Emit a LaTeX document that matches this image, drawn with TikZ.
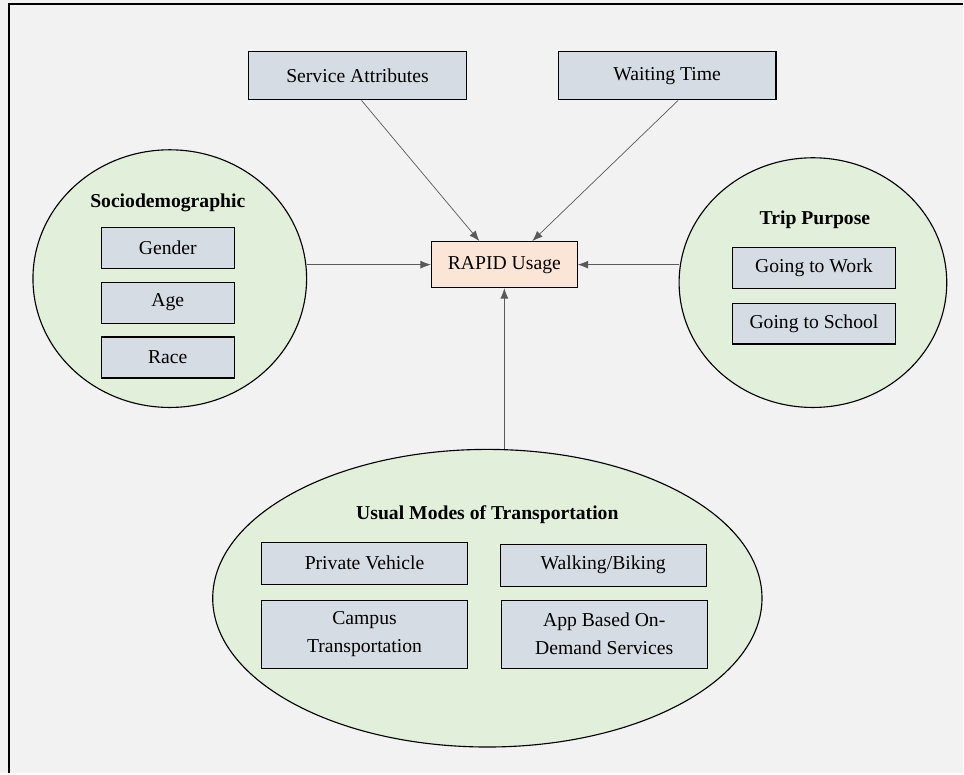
\documentclass[tikz,border=0pt]{standalone}
\usepackage{fontspec}
\setmainfont{Liberation Serif}
\usetikzlibrary{shapes.geometric,arrows.meta}
\definecolor{bgray}{HTML}{F2F2F2}
\definecolor{grpgreen}{HTML}{E2EFDA}
\definecolor{itemblue}{HTML}{D6DCE4}
\definecolor{targetpeach}{HTML}{FBE5D6}
\begin{document}
\begin{tikzpicture}[
        item/.style={rectangle, draw=black, line width=0.8pt, fill=itemblue, align=center},
        group/.style={ellipse, draw=black, line width=0.8pt, fill=grpgreen, inner sep=0pt},
        target/.style={rectangle, draw=black, line width=0.8pt, fill=targetpeach, minimum width=3.65cm, minimum height=1.15cm},
        title/.style={font=\fontsize{14}{20}\selectfont\bfseries},
        edge/.style={->, >={Latex[length=2.6mm,width=2mm]}, draw=black!65, line width=0.5pt},
        font=\fontsize{14}{20}\selectfont
    ]

    % Fundo e moldura
    \fill[bgray] (0,0) rectangle (24.1,19.35);
    \draw[line width=1.8pt] (0.225,0) -- (0.225,19.25) -- (24.1,19.25);

    % Fatores do serviço
    \node[item, minimum width=5.45cm, minimum height=1.2cm] (svc) at (8.95,17.45) {Service Attributes};
    \node[item, minimum width=5.45cm, minimum height=1.2cm] (wait) at (16.7,17.45) {Waiting Time};

    % Variável central
    \node[target] (rapid) at (12.625,12.725) {RAPID Usage};

    % Grupo sociodemográfico
    \node[group, minimum width=6.85cm, minimum height=6.45cm] (socio) at (4.25,12.375) {};
    \node[title] (sociot) at (4.2,14.275) {Sociodemographic};
    \node[item, minimum width=3.325cm, minimum height=1.025cm] (gender) at (4.2,13.15) {Gender};
    \node[item, minimum width=3.325cm, minimum height=1.025cm] (age) at (4.2,11.775) {Age};
    \node[item, minimum width=3.325cm, minimum height=1.025cm] (race) at (4.2,10.4) {Race};

    % Motivo da viagem
    \node[group, minimum width=6.7cm, minimum height=6.25cm] (trip) at (20.35,12.275) {};
    \node[title] (tript) at (20.4,13.85) {Trip Purpose};
    \node[item, minimum width=4.075cm, minimum height=1.025cm] (work) at (20.375,12.65) {Going to Work};
    \node[item, minimum width=4.075cm, minimum height=1.025cm] (school) at (20.375,11.25) {Going to School};

    % Modos de transporte
    \node[group, minimum width=13.75cm, minimum height=7.45cm] (modes) at (12.2,4.375) {};
    \node[title] (modest) at (12.2,6.475) {Usual Modes of Transportation};
    \node[item, minimum width=5.15cm, minimum height=1.05cm] (private) at (9.125,5.25) {Private Vehicle};
    \node[item, minimum width=5.15cm, minimum height=1.05cm] (walking) at (15.1,5.2) {Walking/Biking};
    \node[item, minimum width=5.15cm, minimum height=1.7cm] (campus) at (9.125,3.475) {Campus\\Transportation};
    \node[item, minimum width=5.15cm, minimum height=1.7cm] (app) at (15.125,3.475) {App Based On-\\Demand Services};

    % Setas
    \draw[edge] ([xshift=0.1cm]svc.south) -- ([xshift=-0.625cm]rapid.north);
    \draw[edge] ([xshift=0.275cm]wait.south) -- ([xshift=0.7cm]rapid.north);
    \draw[edge] (socio.east |- rapid.west) -- (rapid.west);
    \draw[edge] (trip.west |- rapid.east) -- (rapid.east);
    \draw[edge] (rapid.south |- modes.north) -- (rapid.south);

\end{tikzpicture}
\end{document}
